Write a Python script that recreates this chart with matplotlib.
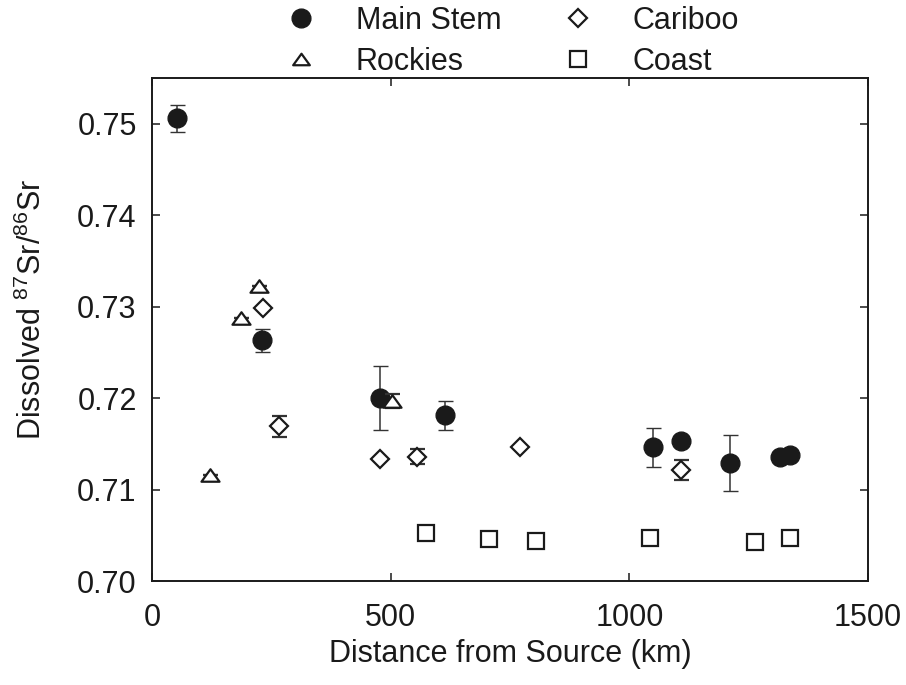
import numpy as np
import matplotlib
matplotlib.use("Agg")
import matplotlib.pyplot as plt
from matplotlib.lines import Line2D
from matplotlib.path import Path

plt.rcParams['font.family'] = ['Liberation Sans', 'DejaVu Sans']
plt.rcParams['mathtext.fontset'] = 'custom'
plt.rcParams['mathtext.rm'] = 'Liberation Sans'
plt.rcParams['mathtext.it'] = 'Liberation Sans:italic'
plt.rcParams['mathtext.bf'] = 'Liberation Sans:bold'

# ---- data ----
main_x = [52, 230, 478, 614, 1050, 1109, 1210, 1315, 1337]
main_y = [0.7506, 0.7263, 0.7200, 0.7181, 0.7146, 0.7153, 0.7129, 0.7136, 0.7138]
main_err = [0.0015, 0.0013, 0.0035, 0.0016, 0.0021, 0.0, 0.0031, 0.0, 0.0]

rock_x = [122, 186, 224, 502]
rock_y = [0.7116, 0.7288, 0.7323, 0.7197]
rock_err = [0.0, 0.0, 0.0, 0.0008]

carib_x = [233, 267, 478, 555, 770, 1109]
carib_y = [0.7298, 0.7169, 0.7133, 0.7136, 0.7146, 0.7121]
carib_err = [0.0, 0.0011, 0.0, 0.0008, 0.0, 0.0011]

coast_x = [574, 705, 804, 1044, 1264, 1336]
coast_y = [0.7052, 0.7046, 0.7044, 0.7047, 0.7043, 0.7047]

xticks = [0, 500, 1000, 1500]
yticks = [0.70, 0.71, 0.72, 0.73, 0.74, 0.75]

# ---- figure ----
fig = plt.figure(figsize=(9.06, 6.85), dpi=100)
ax = fig.add_axes([152/906, 1-581/685, 716/906, 503/685])

ink = '#1a1a1a'
errc = '#333333'
fs = 22
mew = 1.6
tri = Path([(-1, -0.69), (1, -0.69), (0, 0.69), (-1, -0.69)],
           [Path.MOVETO, Path.LINETO, Path.LINETO, Path.CLOSEPOLY])

eb_kw = dict(ecolor=errc, elinewidth=1.1, capsize=5.4, capthick=1.1, linestyle='none')

ax.errorbar(main_x, main_y, yerr=main_err, marker='o', ms=13.5, mfc=ink, mec=ink,
            mew=1.0, zorder=3, **eb_kw)
ax.errorbar(rock_x, rock_y, yerr=rock_err, marker=tri, ms=13, mfc='white', mec=ink,
            mew=mew, zorder=4, **eb_kw)
ax.errorbar(carib_x, carib_y, yerr=carib_err, marker='D', ms=9.4, mfc='white', mec=ink,
            mew=mew, zorder=4, **eb_kw)
ax.plot(coast_x, coast_y, linestyle='none', marker='s', ms=11, mfc='white', mec=ink,
        mew=mew, zorder=4)

ax.set_xlim(0, 1500)
ax.set_ylim(0.70, 0.755)
ax.set_xticks(xticks)
ax.set_xticklabels([str(t) for t in xticks])
ax.set_yticks(yticks)
ax.set_yticklabels([f"{t:.2f}" for t in yticks])

for s in ax.spines.values():
    s.set_linewidth(1.4)
    s.set_color(ink)

ax.tick_params(axis='both', direction='in', top=True, right=True, length=5.5,
               width=1.1, color=ink, labelsize=fs, labelcolor=ink)
ax.tick_params(axis='x', pad=16)
ax.tick_params(axis='y', pad=11)

ax.set_xlabel('Distance from Source (km)', fontsize=fs, color=ink)
ax.xaxis.set_label_coords(0.5, -0.115)
ax.set_ylabel(r'Dissolved $^{87}$Sr/$^{86}$Sr', fontsize=fs, color=ink)
ax.yaxis.set_label_coords(-0.145, 0.54)

handles = [
    Line2D([], [], linestyle='none', marker='o', ms=13.5, mfc=ink, mec=ink, mew=1.0),
    Line2D([], [], linestyle='none', marker=tri, ms=12, mfc='white', mec=ink, mew=mew),
    Line2D([], [], linestyle='none', marker='D', ms=9.4, mfc='white', mec=ink, mew=mew),
    Line2D([], [], linestyle='none', marker='s', ms=11, mfc='white', mec=ink, mew=mew),
]
labels = ['Main Stem', 'Rockies', 'Cariboo', 'Coast']
fig.legend(handles, labels, ncol=2, loc='upper left',
           bbox_to_anchor=(270/906, 1 - 6/685), bbox_transform=fig.transFigure,
           frameon=False, fontsize=fs, handlelength=2.0, handletextpad=0.8,
           columnspacing=1.5, labelspacing=0.35, borderpad=0, borderaxespad=0,
           labelcolor=ink)

fig.savefig('out.png', dpi=100, facecolor='white')
